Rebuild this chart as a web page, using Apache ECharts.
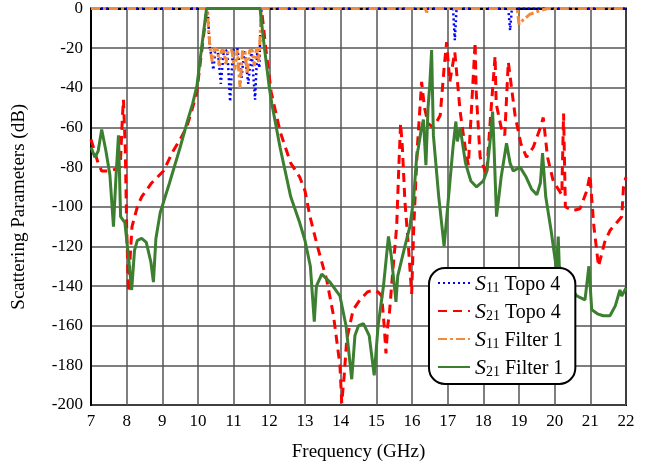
<!doctype html>
<html lang="en">
<head>
    <meta charset="utf-8">
    <title>Scattering Parameters</title>
    <script src="https://cdn.jsdelivr.net/npm/echarts@6/dist/echarts.min.js"></script>
    <style>
        html, body { margin: 0; padding: 0; background: #fff; }
        #chart { width: 652px; height: 467px; }
    </style>
</head>
<body>
    <div id="chart"></div>
    <script type="text/javascript">
        // frequency (GHz) / level (dB)
        var s11TopoF = [7.0, 10.27, 10.3, 10.33, 10.38, 10.43, 10.48, 10.56, 10.64, 10.72, 10.82, 10.9, 10.98, 11.1, 11.22, 11.3, 11.41, 11.5, 11.6, 11.66, 11.72, 11.75, 11.78, 17.15, 17.2, 17.25, 18.7, 18.75, 18.8, 22.0];
        var s11TopoDb = [0, 0, -10, -20, -24, -31, -22, -22, -38, -22, -21, -47, -21, -20, -35, -21, -38, -21, -46, -22, -30, -10, 0, 0, -16, 0, 0, -11, 0, 0];

        var s21TopoF = [7.0, 7.1, 7.2, 7.3, 7.5, 7.7, 7.82, 7.88, 7.91, 7.96, 8.0, 8.05, 8.1, 8.15, 8.3, 8.42, 8.7, 9.03, 9.3, 9.5, 9.68, 9.85, 9.96, 10.1, 10.25,
            11.72, 11.78, 11.9, 12.05, 12.3, 12.6, 12.85, 13.0, 13.14, 13.35, 13.61, 13.8, 13.98, 14.03, 14.1, 14.17, 14.35, 14.54, 14.75, 14.91, 15.05, 15.15, 15.22, 15.27, 15.32, 15.37, 15.45, 15.57, 15.63, 15.68, 15.73, 15.8, 15.9, 15.99,
            16.05, 16.15, 16.27, 16.35, 16.45, 16.6, 16.79, 16.9, 16.97, 17.06, 17.2, 17.35, 17.49, 17.58, 17.7, 17.77, 17.8, 17.91, 18.09, 18.2, 18.33, 18.36, 18.5, 18.6, 18.7, 18.89, 19.05, 19.21, 19.4, 19.6, 19.68, 19.8, 19.96,
            20.2, 20.25, 20.3, 20.5, 20.71, 20.9, 20.99, 21.1, 21.23, 21.4, 21.55, 21.88, 21.93, 22.0];
        var s21TopoDb = [-66, -72, -78, -82, -82, -81, -80, -55, -46, -70, -110, -143, -125, -110, -100, -95, -88, -82, -72, -66, -60, -50, -43, -22, 0,
            0, 0, -20, -42, -62, -78, -85, -92, -105, -120, -137, -155, -180, -199, -185, -167, -152, -147, -143, -142, -143, -145, -160, -174, -160, -153, -135, -110, -80, -58, -70, -97, -120, -144,
            -110, -70, -37, -50, -58, -60, -54, -30, -17, -37, -22, -52, -70, -79, -40, -17, -42, -75, -84, -55, -24, -48, -60, -64, -27, -54, -68, -75, -70, -60, -55, -75, -87,
            -94, -53, -100, -102, -101, -92, -84, -110, -130, -118, -112, -105, -90, -85];

        var s11FilterF = [7.0, 10.26, 10.3, 10.34, 10.4, 10.46, 10.55, 10.6, 10.66, 10.72, 10.78, 10.85, 10.95, 11.03, 11.1, 11.18, 11.25, 11.32, 11.38, 11.45, 11.52, 11.58, 11.64, 11.7, 11.74, 11.77, 16.38, 16.41, 16.45, 18.95, 19.0, 19.1, 19.3, 19.6, 19.8, 22.0];
        var s11FilterDb = [0, 0, -12, -20, -27, -20, -21, -29, -21, -21, -28, -21, -21, -31, -21, -40, -21, -22, -33, -21, -21, -29, -20, -27, -15, 0, 0, -2, 0, 0, -8, -6, -3, -1, 0, 0];

        var s21FilterF = [7.0, 7.11, 7.2, 7.3, 7.42, 7.53, 7.63, 7.7, 7.77, 7.83, 7.95, 8.05, 8.14, 8.22, 8.3, 8.42, 8.55, 8.68, 8.75, 8.82, 8.94, 9.2, 9.5, 9.7, 9.85, 9.97, 10.1, 10.24,
            11.74, 11.85, 12.0, 12.07, 12.3, 12.6, 12.85, 13.0, 13.15, 13.26, 13.32, 13.47, 13.7, 13.98, 14.15, 14.31, 14.4, 14.5, 14.64, 14.8, 14.94, 15.05, 15.2, 15.34, 15.42, 15.55, 15.6, 15.8, 15.94,
            16.04, 16.13, 16.18, 16.25, 16.32, 16.39, 16.45, 16.5, 16.55, 16.6, 16.75, 16.9, 17.0, 17.15, 17.23, 17.27, 17.35, 17.5, 17.65, 17.81, 18.0, 18.1, 18.2, 18.26, 18.3, 18.37, 18.5, 18.65, 18.75, 18.84, 19.03, 19.2, 19.35, 19.5, 19.6, 19.66, 19.75, 19.9,
            20.0, 20.05, 20.1, 20.13, 20.4, 20.62, 20.85, 20.96, 21.04, 21.2, 21.36, 21.55, 21.7, 21.83, 21.88, 22.0];
        var s21FilterDb = [-70, -75, -72, -61, -72, -84, -110, -85, -64, -105, -108, -125, -142, -122, -117, -116, -118, -128, -138, -116, -103, -88, -70, -57, -48, -39, -20, 0,
            0, -18, -40, -48, -70, -95, -108, -117, -130, -158, -140, -134, -138, -145, -160, -187, -165, -160, -159, -165, -185, -160, -140, -115, -125, -148, -135, -120, -110,
            -97, -75, -70, -62, -56, -79, -50, -38, -21, -64, -95, -120, -100, -70, -57, -67, -60, -78, -87, -90, -87, -82, -65, -52, -70, -105, -85, -68, -78, -82, -80, -85, -91, -94, -88, -73, -95, -112,
            -125, -131, -115, -130, -140, -145, -147, -130, -152, -154, -155, -155, -150, -142, -145, -141];

        var seriesNames = ['S11 Topo 4', 'S21 Topo 4', 'S11 Filter 1', 'S21 Filter 1'];
        var xTicks = [7, 22, 1];
        var yTicks = [-200, 0, 20];

        function pairs(f, d) {
            var out = [];
            for (var i = 0; i < f.length; i++) out.push([f[i], d[i]]);
            return out;
        }

        var font = 'Liberation Serif';
        var chart = echarts.init(document.getElementById('chart'), null, { renderer: 'canvas' });
        var option = {
            animation: false,
            backgroundColor: '#fff',
            grid: {
                left: 91, right: 26, top: 6, bottom: 61,
                show: true, borderColor: '#000', borderWidth: 2, backgroundColor: 'transparent'
            },
            legend: {
                left: 429, top: 268,
                orient: 'vertical',
                backgroundColor: '#fff',
                borderColor: '#000', borderWidth: 2, borderRadius: 16,
                padding: [5, 12, 5, 8],
                itemGap: 6,
                itemWidth: 32, itemHeight: 14,
                itemStyle: { opacity: 0 },
                data: seriesNames,
                formatter: function (name) {
                    return '{s|S}{sub|' + name.slice(1, 3) + '}{t|' + name.slice(3) + '}';
                },
                textStyle: {
                    fontFamily: font, fontSize: 20, color: '#000',
                    rich: {
                        s: { fontFamily: font, fontSize: 22, fontStyle: 'italic', color: '#000', verticalAlign: 'bottom' },
                        sub: { fontFamily: font, fontSize: 14, color: '#000', verticalAlign: 'bottom', padding: [10, 0, 0, 0] },
                        t: { fontFamily: font, fontSize: 20, color: '#000', verticalAlign: 'bottom' }
                    }
                }
            },
            xAxis: {
                type: 'value', min: xTicks[0], max: xTicks[1], interval: xTicks[2],
                name: 'Frequency (GHz)', nameLocation: 'middle', nameGap: 38,
                nameTextStyle: { fontFamily: font, fontSize: 19, color: '#000' },
                axisLine: { show: true, lineStyle: { color: '#000', width: 2 } },
                axisTick: { show: false },
                axisLabel: { fontFamily: font, fontSize: 17, color: '#000', margin: 8 },
                splitLine: { show: true, lineStyle: { color: '#555', width: 1.5 } }
            },
            yAxis: {
                type: 'value', min: yTicks[0], max: yTicks[1], interval: yTicks[2],
                name: 'Scattering Parameters (dB)', nameLocation: 'middle', nameGap: 62,
                nameTextStyle: { fontFamily: font, fontSize: 19, color: '#000' },
                axisLine: { show: true, lineStyle: { color: '#000', width: 2 } },
                axisTick: { show: false },
                axisLabel: { fontFamily: font, fontSize: 17, color: '#000', margin: 8 },
                splitLine: { show: true, lineStyle: { color: '#555', width: 1.5 } }
            },
            series: [{
                name: seriesNames[0], type: 'line', symbol: 'none',
                data: pairs(s11TopoF, s11TopoDb),
                lineStyle: { color: '#0000ff', width: 2.5, type: [2, 3] },
                itemStyle: { color: '#0000ff' }
            }, {
                name: seriesNames[1], type: 'line', symbol: 'none',
                data: pairs(s21TopoF, s21TopoDb),
                lineStyle: { color: '#ff0000', width: 3, type: [9, 6] },
                itemStyle: { color: '#ff0000' }
            }, {
                name: seriesNames[2], type: 'line', symbol: 'none',
                data: pairs(s11FilterF, s11FilterDb),
                lineStyle: { color: '#f28a3c', width: 3, type: [9, 3, 3, 3] },
                itemStyle: { color: '#f28a3c' }
            }, {
                name: seriesNames[3], type: 'line', symbol: 'none',
                data: pairs(s21FilterF, s21FilterDb),
                lineStyle: { color: '#3c7f30', width: 3 },
                itemStyle: { color: '#3c7f30' }
            }]
        };
        chart.setOption(option);
    </script>
</body>
</html>
